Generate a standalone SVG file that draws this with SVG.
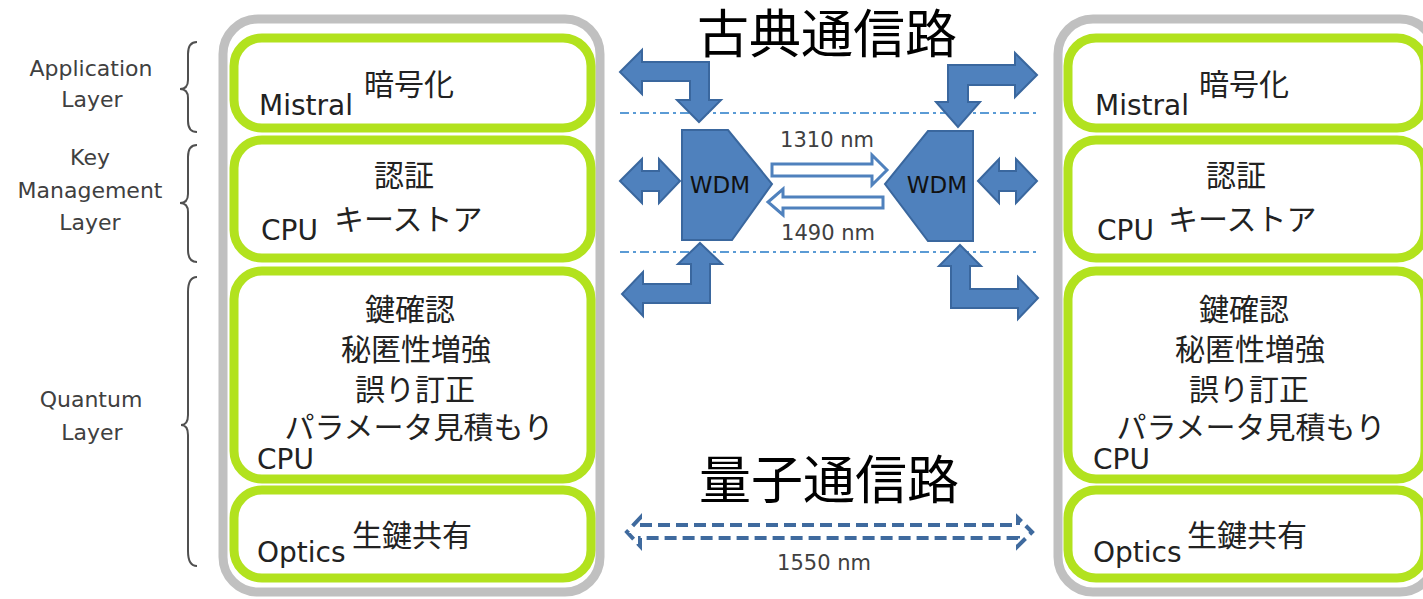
<svg xmlns="http://www.w3.org/2000/svg" width="1423" height="599" viewBox="0 0 1423 599">
<style>
.frame{fill:#fff;stroke:#c0c0c0;stroke-width:9}
.layer{fill:#fff;stroke:#b2e21e;stroke-width:9}
.lat{font-family:"DejaVu Sans","Liberation Sans",sans-serif;font-size:28px;fill:#222}
.jp{font-family:"Noto Sans CJK JP","Noto Sans CJK SC",sans-serif;font-size:30px;fill:#222}
.jpc{font-family:"Noto Sans CJK JP","Noto Sans CJK SC",sans-serif;font-size:30px;fill:#222;text-anchor:middle}
.lbl{font-family:"DejaVu Sans","Liberation Sans",sans-serif;font-size:22px;fill:#404040;text-anchor:middle}
.brace{fill:none;stroke:#505050;stroke-width:2}
.title{font-family:"Noto Sans CJK JP","Noto Sans CJK SC",sans-serif;font-size:52px;font-weight:400;fill:#000;text-anchor:middle}
.nm{font-family:"DejaVu Sans","Liberation Sans",sans-serif;font-size:21px;fill:#404040;text-anchor:middle}
.blk{fill:#4f81bd;stroke:#3a679e;stroke-width:2;stroke-linejoin:miter}
.hollow{fill:#fff;stroke:#4f81bd;stroke-width:3}
.dd{stroke:#5b9bd5;stroke-width:2;stroke-dasharray:9 4 3 4;fill:none}
.wdm{font-family:"DejaVu Sans","Liberation Sans",sans-serif;font-size:23px;fill:#111;text-anchor:middle}
</style>

<g id="layer-labels">
<text class="lbl" x="91" y="76">Application</text>
<text class="lbl" x="92" y="107">Layer</text>
<text class="lbl" x="90" y="165">Key</text>
<text class="lbl" x="90" y="198">Management</text>
<text class="lbl" x="90" y="230">Layer</text>
<text class="lbl" x="91" y="407">Quantum</text>
<text class="lbl" x="92" y="440">Layer</text>
<path class="brace" d="M197,42 Q188,42 188,54 L188,80 Q188,89 180,89 Q188,89 188,98 L188,121 Q188,132 197,132"/>
<path class="brace" d="M197,145 Q188,145 188,157 L188,194 Q188,203 180,203 Q188,203 188,212 L188,250 Q188,262 197,262"/>
<path class="brace" d="M197,277 Q188,277 188,292 L188,415 Q188,425 181,425 Q188,425 188,435 L188,551 Q188,566 197,566"/>
</g>

<g id="left-stack">
<rect class="frame" x="223" y="19" width="377" height="573" rx="35"/>
<g id="left-app">
<rect class="layer" x="234" y="38" width="357" height="90" rx="28"/>
<text class="lat" x="259" y="115">Mistral</text>
<text class="jp" x="364" y="95">暗号化</text>
</g>
<g id="left-key">
<rect class="layer" x="234" y="140" width="357" height="118" rx="28"/>
<text class="jpc" x="404" y="186">認証</text>
<text class="lat" x="261" y="240">CPU</text>
<text class="jp" x="334" y="230">キーストア</text>
</g>
<g id="left-quantum">
<rect class="layer" x="234" y="271" width="357" height="208" rx="28"/>
<text class="jpc" x="410" y="320">鍵確認</text>
<text class="jpc" x="416" y="360">秘匿性増強</text>
<text class="jpc" x="415" y="400">誤り訂正</text>
<text class="jpc" x="419" y="438">パラメータ見積もり</text>
<text class="lat" x="257" y="469">CPU</text>
</g>
<g id="left-optics">
<rect class="layer" x="234" y="490" width="357" height="88" rx="28"/>
<text class="lat" x="257" y="562">Optics</text>
<text class="jp" x="352" y="546">生鍵共有</text>
</g>
</g>

<g id="right-stack">
<rect class="frame" x="1058" y="19" width="377" height="573" rx="35"/>
<g id="right-app">
<rect class="layer" x="1068" y="38" width="357" height="90" rx="28"/>
<text class="lat" x="1095" y="115">Mistral</text>
<text class="jp" x="1199" y="95">暗号化</text>
</g>
<g id="right-key">
<rect class="layer" x="1068" y="140" width="357" height="118" rx="28"/>
<text class="jpc" x="1236" y="186">認証</text>
<text class="lat" x="1097" y="240">CPU</text>
<text class="jp" x="1168" y="230">キーストア</text>
</g>
<g id="right-quantum">
<rect class="layer" x="1068" y="271" width="357" height="208" rx="28"/>
<text class="jpc" x="1244" y="320">鍵確認</text>
<text class="jpc" x="1250" y="360">秘匿性増強</text>
<text class="jpc" x="1249" y="400">誤り訂正</text>
<text class="jpc" x="1251" y="438">パラメータ見積もり</text>
<text class="lat" x="1093" y="469">CPU</text>
</g>
<g id="right-optics">
<rect class="layer" x="1068" y="490" width="357" height="88" rx="28"/>
<text class="lat" x="1093" y="562">Optics</text>
<text class="jp" x="1187" y="546">生鍵共有</text>
</g>
</g>

<g id="titles">
<text class="title" x="827" y="53">古典通信路</text>
<text class="title" x="829" y="499">量子通信路</text>
</g>

<g id="wdm-left">
<path class="blk" d="M682,130 L728,130 L772,184 L732,240 L682,240 Z"/>
<text class="wdm" x="720" y="193">WDM</text>
</g>
<g id="wdm-right">
<path class="blk" d="M973,131 L928,131 L885,184 L928,241 L973,241 Z"/>
<text class="wdm" x="937" y="193">WDM</text>
</g>

<g id="connectors">
<line class="dd" x1="620" y1="113" x2="1038" y2="113"/>
<line class="dd" x1="620" y1="252" x2="1038" y2="252"/>
<path class="blk" d="M620,72 L642,50 L642,62 L709,62 L709,100 L721,100 L699,122 L677,100 L690,100 L690,81 L642,81 L642,94 Z"/>
<path class="blk" d="M1037,75 L1015,53 L1015,65 L948,65 L948,102 L936,102 L958,127 L980,102 L968,102 L968,85 L1015,85 L1015,97 Z"/>
<path class="blk" d="M620,181 L642,159 L642,171 L659,171 L659,159 L680,181 L659,203 L659,191 L642,191 L642,203 Z"/>
<path class="blk" d="M978,181 L999,159 L999,171 L1016,171 L1016,159 L1037,181 L1016,203 L1016,191 L999,191 L999,203 Z"/>
<path class="blk" d="M700,243 L722,264 L710,264 L710,303 L643,303 L643,316 L622,294 L643,272 L643,284 L691,284 L691,264 L678,264 Z"/>
<path class="blk" d="M960,245 L981,266 L970,266 L970,289 L1018,289 L1018,277 L1038,298 L1018,319 L1018,308 L951,308 L951,266 L939,266 Z"/>
<path class="hollow" d="M772,164 L872,164 L872,155 L887,170 L872,185 L872,176 L772,176 Z"/>
<path class="hollow" d="M883,197 L783,197 L783,189 L768,202 L783,215 L783,208 L883,208 Z"/>
<text class="nm" x="827" y="147">1310 nm</text>
<text class="nm" x="828" y="240">1490 nm</text>
<path d="M640,525 L1018,525 L1018,518 L1032,532 L1018,546 L1018,538 L640,538 L640,546 L627,532 L640,518 Z" fill="none" stroke="#3f6a9e" stroke-width="4" stroke-dasharray="12 6"/>
<text class="nm" x="824" y="570">1550 nm</text>
</g>
</svg>
